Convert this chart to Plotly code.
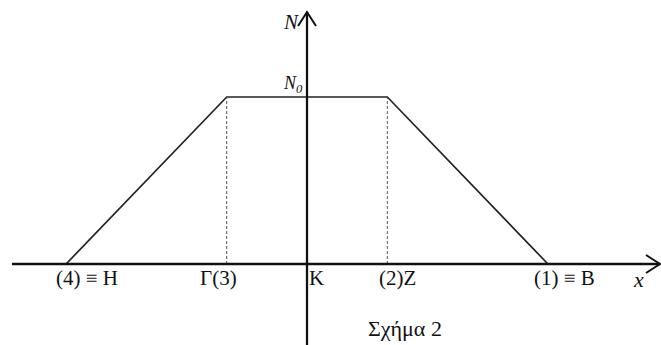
import plotly.graph_objects as go

# Trapezoid profile N(x): rises from H to Γ, flat at N0 between Γ and Z, falls to B
x_points = [-3, -1, 1, 3]
n_values = [0, 1, 1, 0]
point_labels = ["(4) ≡ Η", "Γ(3)", "(2)Ζ", "(1) ≡ Β"]
label_shift_px = [21, -8, 10, 17]
origin_label = "Κ"
caption = "Σχήμα 2"

W, H = 661, 345
X_RANGE = [-3.823, 4.408]
Y_RANGE = [-0.485, 1.581]
px_x = (X_RANGE[1] - X_RANGE[0]) / W   # data units per pixel, horizontal
px_y = (Y_RANGE[1] - Y_RANGE[0]) / H   # data units per pixel, vertical

FONT = "'Liberation Serif', 'Times New Roman', 'DejaVu Serif', serif"
INK = "#111111"

fig = go.Figure()

# profile line
fig.add_trace(go.Scatter(x=x_points, y=n_values, mode="lines",
                         line=dict(color="#222222", width=1.7),
                         hoverinfo="skip", showlegend=False))

shapes = []
# dashed drop lines from the plateau corners
for xv, nv in zip(x_points, n_values):
    if nv > 0:
        shapes.append(dict(type="line", xref="x", yref="y", x0=xv, x1=xv, y0=0, y1=nv,
                           line=dict(color="#555555", width=1, dash="3px,2px")))

# coordinate axes
x_left = X_RANGE[0] + 12 * px_x
x_tip = X_RANGE[1] - 1 * px_x
y_tip = Y_RANGE[1] - 12 * px_y
shapes.append(dict(type="line", xref="x", yref="y", x0=x_left, x1=x_tip, y0=0, y1=0,
                   line=dict(color=INK, width=2.3)))
shapes.append(dict(type="line", xref="x", yref="y", x0=0, x1=0, y0=Y_RANGE[0], y1=y_tip,
                   line=dict(color=INK, width=2.3)))
fig.update_layout(shapes=shapes)

# open chevron arrow heads
fig.add_trace(go.Scatter(
    x=[x_tip - 14 * px_x, x_tip, x_tip - 14 * px_x],
    y=[9 * px_y, 0, -9 * px_y],
    mode="lines", line=dict(color=INK, width=2), hoverinfo="skip", showlegend=False))
fig.add_trace(go.Scatter(
    x=[-9 * px_x, 0, 9 * px_x],
    y=[y_tip - 14 * px_y, y_tip, y_tip - 14 * px_y],
    mode="lines", line=dict(color=INK, width=2), hoverinfo="skip", showlegend=False))

ann = []
for xv, lab, sh in zip(x_points, point_labels, label_shift_px):
    ann.append(dict(x=xv, y=0, text=lab, showarrow=False, xshift=sh, yshift=-14,
                    xanchor="center", yanchor="middle",
                    font=dict(family=FONT, size=21, color=INK)))
ann.append(dict(x=0, y=0, text=origin_label, showarrow=False, xshift=9, yshift=-14,
                xanchor="center", yanchor="middle", font=dict(family=FONT, size=21, color=INK)))
ann.append(dict(x=X_RANGE[1], y=0, text="<i>x</i>", showarrow=False, xshift=-23, yshift=-15,
                xanchor="center", yanchor="middle", font=dict(family=FONT, size=22, color=INK)))
ann.append(dict(x=0, y=y_tip, text="<i>N</i>", showarrow=False, xshift=-16, yshift=-10,
                xanchor="center", yanchor="middle", font=dict(family=FONT, size=21, color=INK)))
ann.append(dict(x=0, y=max(n_values), text="<i>N<sub>0</sub></i>", showarrow=False,
                xshift=-14, yshift=13, xanchor="center", yanchor="middle",
                font=dict(family=FONT, size=18, color=INK)))
ann.append(dict(x=0, y=0, text=caption, showarrow=False, xshift=98, yshift=-64,
                xanchor="center", yanchor="middle", font=dict(family=FONT, size=22, color=INK)))

fig.update_layout(
    annotations=ann,
    width=W, height=H,
    margin=dict(l=0, r=0, t=0, b=0),
    paper_bgcolor="white", plot_bgcolor="white",
    xaxis=dict(range=X_RANGE, visible=False, fixedrange=True),
    yaxis=dict(range=Y_RANGE, visible=False, fixedrange=True),
    showlegend=False,
)

fig.write_html("out.html")
